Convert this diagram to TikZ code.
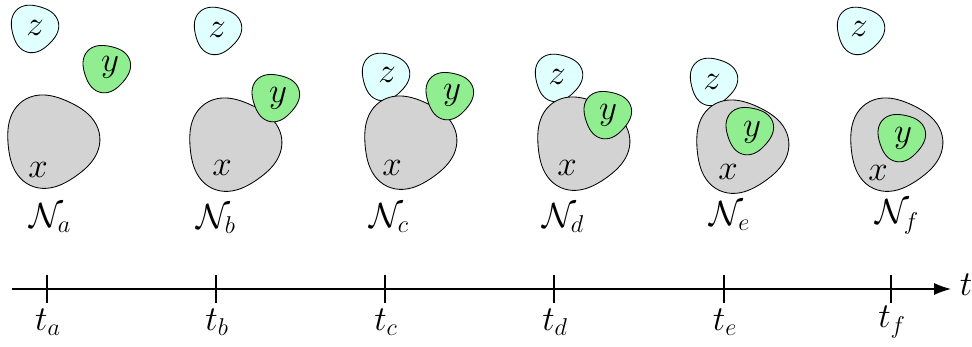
\documentclass[tikz,border=0pt]{standalone}
\usetikzlibrary{arrows.meta}
\definecolor{zc}{HTML}{E0FFFF}
\definecolor{yc}{HTML}{90EE90}
\definecolor{xc}{HTML}{D3D3D3}
\newcommand\myblob[5]{%
  \draw[#5] plot[smooth cycle, domain=0:355, samples=72]
    ({#1+#3*(1+0.065*cos(3*(\x-(#4))))*cos(\x)},{#2+#3*(1+0.065*cos(3*(\x-(#4))))*sin(\x)});}
\begin{document}
\begin{tikzpicture}[x=0.025cm, y=-0.025cm,
  zblob/.style={fill=zc, draw=black, line width=0.6pt},
  yblob/.style={fill=yc, draw=black, line width=0.6pt},
  xblob/.style={fill=xc, draw=black, line width=0.6pt},
  lab/.style={inner sep=0pt, font=\fontsize{24}{28}\selectfont},
  axisline/.style={line width=0.9pt},
  tickline/.style={line width=0.9pt}]
\useasboundingbox (0,0) rectangle (972,347);
% panel a
\myblob{34}{28}{23.5}{-14}{zblob}
\myblob{51}{141}{46}{-5}{xblob}
\myblob{106}{68}{23.5}{-18}{yblob}
\node[lab] (za) at (35,28) {$z$};
\node[lab] (ya) at (110,67) {$y$};
\node[lab] (xa) at (38,170) {$x$};
\node[lab] (Na) at (50,218) {$\mathcal{N}_a$};
% panel b
\myblob{217}{30}{23.5}{-14}{zblob}
\myblob{233}{144}{46}{-5}{xblob}
\myblob{275}{97}{23.5}{-18}{yblob}
\node[lab] (zb) at (217,30) {$z$};
\node[lab] (yb) at (278,98) {$y$};
\node[lab] (xb) at (222,168) {$x$};
\node[lab] (Nb) at (216,219) {$\mathcal{N}_b$};
% panel c
\myblob{385}{76}{23.5}{-14}{zblob}
\myblob{408}{142}{46}{-5}{xblob}
\myblob{449}{95}{23.5}{-18}{yblob}
\node[lab] (zc) at (387,75) {$z$};
\node[lab] (yc) at (452,95) {$y$};
\node[lab] (xc) at (392,168) {$x$};
\node[lab] (Nc) at (389,218) {$\mathcal{N}_c$};
% panel d
\myblob{558}{77}{23.5}{-14}{zblob}
\myblob{581}{143}{46}{-5}{xblob}
\myblob{607}{114}{23.5}{-18}{yblob}
\node[lab] (zd) at (557,77) {$z$};
\node[lab] (yd) at (608,115) {$y$};
\node[lab] (xd) at (567,168) {$x$};
\node[lab] (Nd) at (563,218) {$\mathcal{N}_d$};
% panel e
\myblob{713}{81}{23.5}{-14}{zblob}
\myblob{740}{146}{46}{-5}{xblob}
\myblob{749}{130}{23.5}{-18}{yblob}
\node[lab] (ze) at (712,82) {$z$};
\node[lab] (ye) at (752,132) {$y$};
\node[lab] (xe) at (728,172) {$x$};
\node[lab] (Ne) at (730,216) {$\mathcal{N}_e$};
% panel f
\myblob{860}{30}{23.5}{-14}{zblob}
\myblob{894}{144}{46}{-5}{xblob}
\myblob{901}{137}{23.5}{-18}{yblob}
\node[lab] (zf) at (859,29) {$z$};
\node[lab] (yf) at (903,138) {$y$};
\node[lab] (xf) at (878,173) {$x$};
\node[lab] (Nf) at (897,217) {$\mathcal{N}_f$};
% axis
\coordinate (ax0) at (12,289);
\coordinate (ax1) at (951,289);
\draw[axisline, -{Latex[length=12pt, width=8.5pt]}] (ax0) -- (ax1);
\node[lab] (tt) at (966,285) {$t$};
\foreach \n/\p in {a/47, b/216, c/385, d/554, e/724, f/891}{
  \coordinate (top\n) at (\p,275);
  \coordinate (bot\n) at (\p,303);
  \draw[tickline] (top\n) -- (bot\n);
  \node[lab] (t\n) at (\p+1,322) {$t_\n$};
}
\end{tikzpicture}
\end{document}
